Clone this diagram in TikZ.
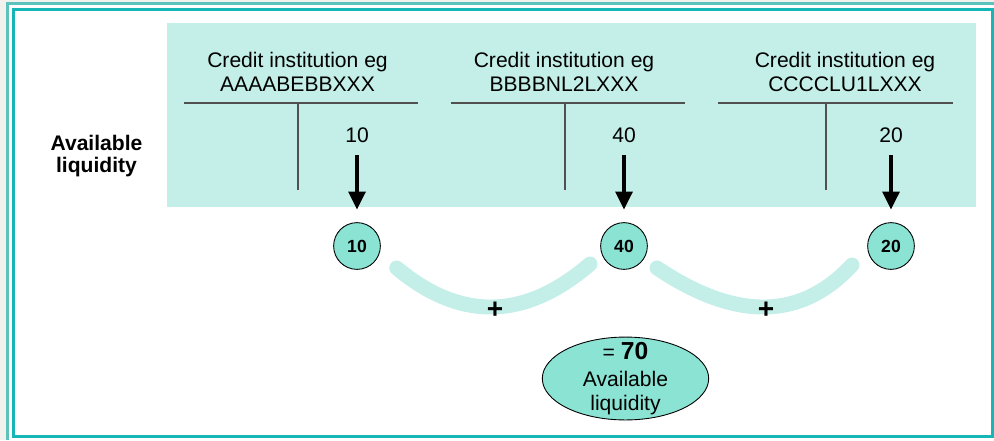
\documentclass[tikz,border=0pt]{standalone}
\usepackage{fontspec}
\setmainfont{Liberation Sans}
\usetikzlibrary{arrows.meta, positioning, shapes.geometric}
\definecolor{lqpale}{HTML}{C3EFE8}
\definecolor{lqmint}{HTML}{8AE3D3}
\definecolor{lqteal}{HTML}{17B6B6}
\definecolor{lqframe}{HTML}{5CC2BC}
\definecolor{lqbg}{HTML}{F1F1ED}
\definecolor{lqline}{HTML}{505050}

\begin{document}
\begin{tikzpicture}[
  x=0.02cm, y=-0.02cm,
  every node/.style={font=\fontsize{12}{13.8}\selectfont},
  title/.style={align=center, inner sep=0pt},
  amount/.style={inner sep=0pt},
  tline/.style={draw=lqline, line width=0.7pt},
  badge/.style={circle, draw=black, line width=0.5pt, fill=lqmint, minimum size=26.6pt, inner sep=0pt, font=\fontsize{10}{12}\selectfont\bfseries},
  arr/.style={-{Triangle[length=10.3pt, width=9.5pt]}, line width=2.2pt, shorten <=7pt, shorten >=7.1pt},
  sumarc/.style={draw=lqpale, line width=8.5pt, line cap=round},
  plus/.style={font=\fontsize{16}{16}\selectfont\bfseries, inner sep=0pt},
  total/.style={ellipse, draw=black, line width=0.5pt, fill=lqmint, minimum width=94.7pt, minimum height=47pt, inner sep=-4pt, align=center, font=\fontsize{12}{13.8}\selectfont},
]
\useasboundingbox (0,0) rectangle (994,440);

% Frame
\fill[lqbg] (0,0) rectangle (994,440);
\fill[white] (6,2) rectangle (994,440);
\draw[lqframe, line width=1.7pt] (7.5,440) -- (7.5,3.5) -- (994,3.5);
\draw[lqteal, line width=1.7pt] (13.5,9.5) rectangle (992,436.5);

% Accounts panel
\fill[lqpale] (167,23) rectangle (976,207);
\node[font=\fontsize{12}{12.5}\selectfont\bfseries, align=center, inner sep=0pt] (avail) at (96.5,156) {Available\\liquidity};

% T-accounts, amounts and arrows
\foreach \tx/\lx/\rx/\vx/\ax/\code/\amt [count=\i] in {
  297.5/184/418/298/357/AAAABEBBXXX/10,
  564/451/685/565/624/BBBBNL2LXXX/40,
  845/718/953/826/891/CCCCLU1LXXX/20} {
  \node[title] (t\i) at (\tx,72) {Credit institution eg\\\code};
  \draw[tline] (\lx,103) -- (\rx,103);
  \draw[tline] (\vx,103) -- (\vx,190);
  \node[amount] (a\i) at (\ax,135) {\amt};
  \node[badge] (b\i) at (\ax,246) {\amt};
  \draw[arr] (a\i) -- (b\i);
}

% Sum arcs
\coordinate (s1) at (396.7,268);
\coordinate (e1) at (590,264);
\coordinate (s2) at (657,268);
\coordinate (e2) at (852,265);
\draw[sumarc] (s1) .. controls (460.6,321.3) and (525,320) .. (e1);
\draw[sumarc] (s2) .. controls (736,321) and (801,320) .. (e2);
\node[plus] (p1) at (495,310.5) {+};
\node[plus] (p2) at (766,310.5) {+};

% Result
\node[total] (sum) at (625.5,378.5) {= {\fontsize{14}{14}\selectfont\bfseries 70}\\[1.5pt]Available\\liquidity};

\end{tikzpicture}
\end{document}
